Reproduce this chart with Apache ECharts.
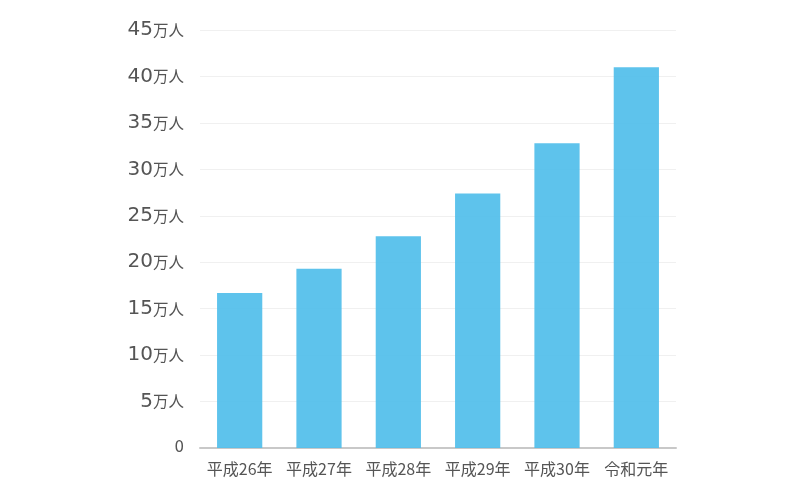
<!DOCTYPE html>
<html><head><meta charset="utf-8">
<script src="https://cdn.jsdelivr.net/npm/echarts@6/dist/echarts.min.js"></script>
<style>html,body{margin:0;padding:0;background:#fff}#c{width:800px;height:500px}</style>
</head><body><div id="c"></div>
<script>
const categories = ['平成26年','平成27年','平成28年','平成29年','平成30年','令和元年'];
const visitors = [16.7, 19.3, 22.8, 27.4, 32.8, 41.0];
const yTicks = [0, 5, 10, 15, 20, 25, 30, 35, 40, 45];

const chart = echarts.init(document.getElementById('c'));
chart.setOption({
  animation: false,
  grid: {left: 200, right: 124, top: 30, bottom: 52},
  xAxis: {
    type: 'category', data: categories,
    axisLine: {lineStyle: {color: '#c8c8c8', width: 2}},
    axisTick: {show: false},
    axisLabel: {interval: 0, color: '#555', fontSize: 16, margin: 13, fontFamily: '"Noto Sans CJK JP", sans-serif'}
  },
  yAxis: {
    type: 'value', min: 0, max: 45, interval: 5,
    axisLine: {show: false}, axisTick: {show: false},
    splitLine: {lineStyle: {color: '#f0f0f0'}},
    axisLabel: {
      margin: 16,
      formatter: v => v === 0 ? '{z|0}' : '{n|' + v + '}{u|万人}',
      rich: {
        n: {color: '#555', fontSize: 20, fontFamily: '"DejaVu Sans", sans-serif'},
        z: {color: '#555', fontSize: 15, fontFamily: '"DejaVu Sans", sans-serif'},
        u: {color: '#555', fontSize: 15.5, fontFamily: '"Noto Sans CJK JP", sans-serif'}
      }
    }
  },
  series: [{
    type: 'bar', data: visitors, barWidth: '57%',
    itemStyle: {color: 'rgba(80,190,234,0.92)'}
  }]
});
</script></body></html>
